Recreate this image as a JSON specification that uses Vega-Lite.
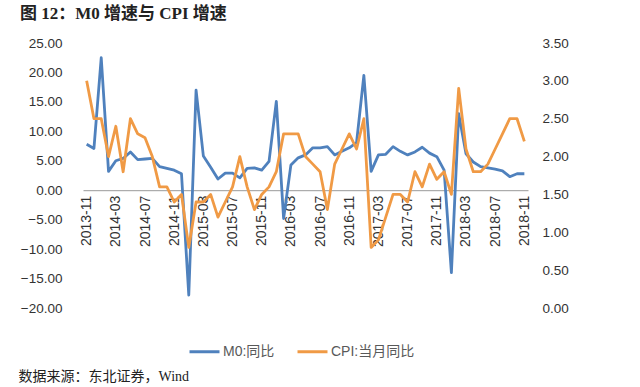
{
  "$schema": "https://vega.github.io/schema/vega-lite/v6.json",
  "width": 445,
  "height": 265,
  "autosize": {"type": "none"},
  "padding": {"left": 83, "top": 43, "right": 112, "bottom": 79},
  "background": "white",
  "config": {"view": {"stroke": null}, "font": "Liberation Sans, Noto Sans CJK SC"},
  "title": {
    "text": "图 12：M0 增速与 CPI 增速",
    "anchor": "start",
    "frame": "group",
    "dx": -63,
    "offset": 13,
    "font": "Liberation Serif, Noto Sans CJK SC",
    "fontSize": 17,
    "fontWeight": "bold",
    "color": "#222222"
  },
  "data": {"values": [
    {"month": "2013-11", "m0": 7.8, "cpi": 3.0},
    {"month": "2013-12", "m0": 7.1, "cpi": 2.5},
    {"month": "2014-01", "m0": 22.5, "cpi": 2.5},
    {"month": "2014-02", "m0": 3.2, "cpi": 2.0},
    {"month": "2014-03", "m0": 5.0, "cpi": 2.4},
    {"month": "2014-04", "m0": 5.4, "cpi": 1.8},
    {"month": "2014-05", "m0": 6.5, "cpi": 2.5},
    {"month": "2014-06", "m0": 5.2, "cpi": 2.3},
    {"month": "2014-07", "m0": 5.3, "cpi": 2.25},
    {"month": "2014-08", "m0": 5.4, "cpi": 2.0},
    {"month": "2014-09", "m0": 4.0, "cpi": 1.6},
    {"month": "2014-10", "m0": 3.7, "cpi": 1.6},
    {"month": "2014-11", "m0": 3.4, "cpi": 1.4},
    {"month": "2014-12", "m0": 2.8, "cpi": 1.5},
    {"month": "2015-01", "m0": -17.8, "cpi": 0.8},
    {"month": "2015-02", "m0": 17.0, "cpi": 1.4},
    {"month": "2015-03", "m0": 5.8, "cpi": 1.4},
    {"month": "2015-04", "m0": 3.9, "cpi": 1.5},
    {"month": "2015-05", "m0": 1.9, "cpi": 1.2},
    {"month": "2015-06", "m0": 2.9, "cpi": 1.4},
    {"month": "2015-07", "m0": 2.9, "cpi": 1.6},
    {"month": "2015-08", "m0": 2.1, "cpi": 2.0},
    {"month": "2015-09", "m0": 3.7, "cpi": 1.6},
    {"month": "2015-10", "m0": 3.8, "cpi": 1.3},
    {"month": "2015-11", "m0": 3.4, "cpi": 1.5},
    {"month": "2015-12", "m0": 4.9, "cpi": 1.6},
    {"month": "2016-01", "m0": 15.1, "cpi": 1.8},
    {"month": "2016-02", "m0": -4.8, "cpi": 2.3},
    {"month": "2016-03", "m0": 4.3, "cpi": 2.3},
    {"month": "2016-04", "m0": 5.5, "cpi": 2.3},
    {"month": "2016-05", "m0": 6.0, "cpi": 2.0},
    {"month": "2016-06", "m0": 7.2, "cpi": 1.9},
    {"month": "2016-07", "m0": 7.2, "cpi": 1.8},
    {"month": "2016-08", "m0": 7.4, "cpi": 1.3},
    {"month": "2016-09", "m0": 6.0, "cpi": 1.9},
    {"month": "2016-10", "m0": 6.6, "cpi": 2.1},
    {"month": "2016-11", "m0": 7.2, "cpi": 2.3},
    {"month": "2016-12", "m0": 8.1, "cpi": 2.1},
    {"month": "2017-01", "m0": 19.5, "cpi": 2.5},
    {"month": "2017-02", "m0": 3.2, "cpi": 0.8},
    {"month": "2017-03", "m0": 6.0, "cpi": 0.9},
    {"month": "2017-04", "m0": 6.1, "cpi": 1.2},
    {"month": "2017-05", "m0": 7.4, "cpi": 1.5},
    {"month": "2017-06", "m0": 6.6, "cpi": 1.5},
    {"month": "2017-07", "m0": 6.0, "cpi": 1.4},
    {"month": "2017-08", "m0": 6.5, "cpi": 1.8},
    {"month": "2017-09", "m0": 7.3, "cpi": 1.6},
    {"month": "2017-10", "m0": 6.3, "cpi": 1.9},
    {"month": "2017-11", "m0": 5.7, "cpi": 1.7},
    {"month": "2017-12", "m0": 3.4, "cpi": 1.8},
    {"month": "2018-01", "m0": -14.0, "cpi": 1.5},
    {"month": "2018-02", "m0": 13.0, "cpi": 2.9},
    {"month": "2018-03", "m0": 6.2, "cpi": 2.1},
    {"month": "2018-04", "m0": 4.8, "cpi": 1.8},
    {"month": "2018-05", "m0": 4.0, "cpi": 1.8},
    {"month": "2018-06", "m0": 3.8, "cpi": 1.9},
    {"month": "2018-07", "m0": 3.6, "cpi": 2.1},
    {"month": "2018-08", "m0": 3.3, "cpi": 2.3},
    {"month": "2018-09", "m0": 2.3, "cpi": 2.5},
    {"month": "2018-10", "m0": 2.8, "cpi": 2.5},
    {"month": "2018-11", "m0": 2.8, "cpi": 2.2}
  ]},
  "encoding": {
    "x": {
      "field": "month",
      "type": "ordinal",
      "sort": null,
      "scale": {"type": "point", "padding": 0.5},
      "axis": {
        "orient": "bottom",
        "offset": -117.8,
        "values": ["2013-11", "2014-03", "2014-07", "2014-11", "2015-03", "2015-07", "2015-11", "2016-03", "2016-07", "2016-11", "2017-03", "2017-07", "2017-11", "2018-03", "2018-07", "2018-11"],
        "labelAngle": -90,
        "labelAlign": "right",
        "labelBaseline": "middle",
        "labelPadding": 5,
        "labelFontSize": 14,
        "labelColor": "#333333",
        "ticks": false,
        "grid": false,
        "domainColor": "#999999",
        "domainWidth": 1,
        "title": null
      }
    }
  },
  "layer": [
    {
      "mark": {"type": "line", "strokeWidth": 2.8, "strokeJoin": "round"},
      "encoding": {
        "y": {
          "field": "m0",
          "type": "quantitative",
          "scale": {"domain": [-20, 25], "nice": false, "zero": false},
          "axis": {
            "orient": "left",
            "values": [-20, -15, -10, -5, 0, 5, 10, 15, 20, 25],
            "format": ".2f",
            "labelFontSize": 13.5,
            "labelColor": "#333333",
            "labelPadding": 21,
            "ticks": false,
            "domain": false,
            "grid": false,
            "title": null
          }
        },
        "color": {
          "datum": "M0:同比",
          "type": "nominal",
          "scale": {"domain": ["M0:同比", "CPI:当月同比"], "range": ["#4F81BD", "#F09A45"]},
          "legend": {
            "orient": "none",
            "legendX": 105,
            "legendY": 292,
            "direction": "horizontal",
            "symbolType": "stroke",
            "symbolSize": 900,
            "symbolStrokeWidth": 3,
            "labelFontSize": 14,
            "labelColor": "#595959",
            "labelOffset": 2,
            "columnPadding": 16,
            "title": null
          }
        }
      }
    },
    {
      "mark": {"type": "line", "strokeWidth": 2.8, "strokeJoin": "round"},
      "encoding": {
        "y": {
          "field": "cpi",
          "type": "quantitative",
          "scale": {"domain": [0, 3.5], "nice": false},
          "axis": {
            "orient": "right",
            "values": [0, 0.5, 1, 1.5, 2, 2.5, 3, 3.5],
            "format": ".2f",
            "labelFontSize": 13.5,
            "labelColor": "#333333",
            "labelPadding": 14,
            "ticks": false,
            "domain": false,
            "grid": false,
            "title": "数据来源：东北证券，Wind",
            "titleAngle": 0,
            "titleAlign": "left",
            "titleBaseline": "alphabetic",
            "titleX": -510,
            "titleY": 337,
            "titleFont": "Liberation Serif, Noto Sans CJK SC",
            "titleFontSize": 14,
            "titleFontWeight": "normal",
            "titleColor": "#222222"
          }
        },
        "color": {"datum": "CPI:当月同比", "type": "nominal"}
      }
    }
  ],
  "resolve": {"scale": {"y": "independent"}}
}
